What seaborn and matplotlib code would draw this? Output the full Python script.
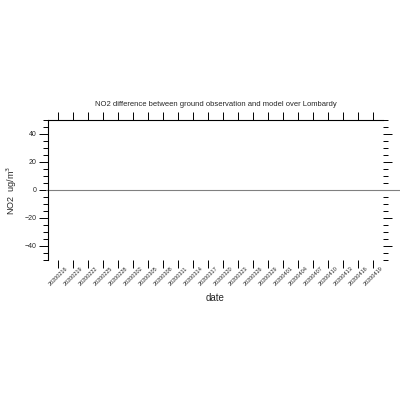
import matplotlib
matplotlib.use("Agg")
import matplotlib.pyplot as plt
from matplotlib.ticker import MultipleLocator
import pandas as pd
import seaborn as sns

# dates shown on the x axis (every 3 days)
tick_labels = ["20200216", "20200219", "20200222", "20200225", "20200228",
               "20200302", "20200305", "20200308", "20200311", "20200314",
               "20200317", "20200320", "20200323", "20200326", "20200329",
               "20200401", "20200404", "20200407", "20200410", "20200413",
               "20200416", "20200419"]
x_start = "20200214"
x_end = "20200421"
y_range = [-50, 50]
ref_value = 0

title = "NO2 difference between ground observation and model over Lombardy"

sns.set_theme(style="ticks")
plt.rcParams['font.family'] = ['Liberation Sans', 'DejaVu Sans']

fig = plt.figure(figsize=(4, 4), dpi=100)
ax = fig.add_axes([0.12, 0.35, 0.8375, 0.35])

tick_dates = pd.to_datetime(tick_labels, format="%Y%m%d")
ax.set_xlim(pd.to_datetime(x_start, format="%Y%m%d"),
            pd.to_datetime(x_end, format="%Y%m%d"))
ax.set_ylim(*y_range)

# zero reference line
ax.axhline(ref_value, xmin=-0.006, xmax=1.05, color="#808080", lw=0.8,
           clip_on=False)

sns.despine(ax=ax, top=False, right=True, left=False, bottom=True)
for s in ["top", "left"]:
    ax.spines[s].set_linewidth(0.8)
    ax.spines[s].set_color("black")

ax.set_xticks(tick_dates)
ax.set_xticklabels(tick_labels, rotation=45, ha="center", fontsize=4)
ax.yaxis.set_major_locator(MultipleLocator(20))
ax.yaxis.set_minor_locator(MultipleLocator(5))

ax.tick_params(axis="both", which="both", direction="out", color="black",
               width=0.7, top=True, right=True, bottom=True, left=True,
               labeltop=False, labelright=False,
               labelbottom=True, labelleft=True)
ax.tick_params(axis="x", which="major", length=6, pad=-2)
ax.tick_params(axis="y", which="major", length=6.5, pad=2, labelsize=5)
ax.tick_params(axis="y", which="minor", length=3.6)
ax.tick_params(axis="x", which="minor", length=0)

ax.set_xlabel("date", fontsize=7)
ax.xaxis.set_label_coords(0.5, -0.235)
ax.set_ylabel("NO2  ug/m$^3$", fontsize=6.5)
ax.yaxis.set_label_coords(-0.086, 0.5)

fig.text(0.539, 0.74, title, ha="center", va="center", fontsize=5.5)

fig.savefig("out.png", dpi=100)
